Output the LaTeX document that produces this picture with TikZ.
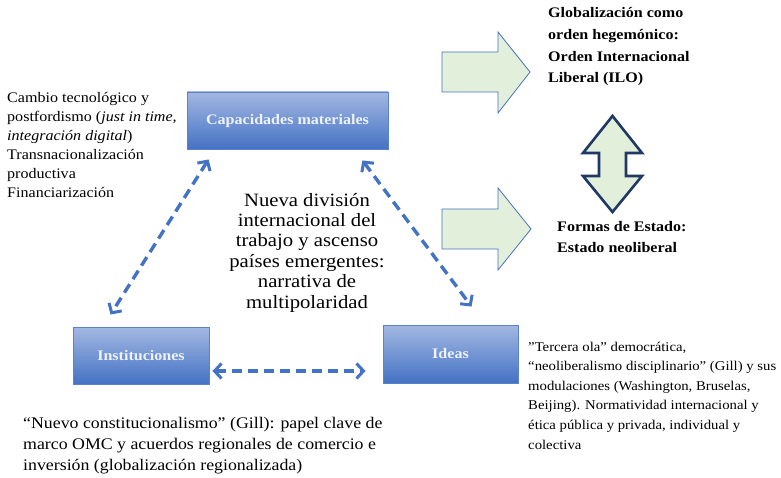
\documentclass[tikz,border=0pt]{standalone}
\usepackage{fontspec}
\setmainfont{Liberation Serif}[FakeStretch=1.1]
\usetikzlibrary{arrows.meta,calc}
\definecolor{boxtop}{HTML}{A3B8E2}
\definecolor{boxbot}{HTML}{4472C4}
\definecolor{boxline}{HTML}{5A82CB}
\definecolor{dashblue}{HTML}{4472C4}
\definecolor{paleGreen}{HTML}{E2EFDA}
\definecolor{navy}{HTML}{203864}
\definecolor{boxtext}{HTML}{EEF2FA}
\tikzset{
  conceptbox/.style={draw=boxline, line width=0.9pt, top color=boxtop, bottom color=boxbot,
    text=boxtext, font=\bfseries\fontsize{14.6}{17}\selectfont, inner sep=0pt},
  dasharrow/.style={draw=dashblue, line width=3.4pt, dash pattern=on 10pt off 6pt,
    {Straight Barb[length=7pt,width=15pt,line width=3pt]}-{Straight Barb[length=7pt,width=15pt,line width=3pt]}},
  blockarrow/.style={draw=dashblue, line width=0.8pt, fill=paleGreen, line join=miter},
  dblarrow/.style={draw=navy, line width=2.6pt, fill=paleGreen, line join=miter},
  txt/.style={inner sep=0pt, text=black},
}
\begin{document}
\begin{tikzpicture}[x=1pt,y=-1pt]
\useasboundingbox[fill=white] (0,0) rectangle (781,478);

% concept boxes
\node[conceptbox, minimum width=201pt, minimum height=57pt] (cap) at (287.5,120.5) {Capacidades materiales};
\node[conceptbox, minimum width=136pt, minimum height=57pt] (inst) at (141,355.5) {Instituciones};
\node[conceptbox, minimum width=135pt, minimum height=58pt] (ideas) at (450.5,354) {Ideas};

% dashed double arrows
\draw[dasharrow] ($(cap.south west)+(22,10)$) -- ($(inst.north west)+(38,-12)$);
\draw[dasharrow] ($(cap.south east)+(-26,11)$) -- ($(ideas.north west)+(89,-18)$);
\draw[dasharrow] ($(inst.east)+(3,15.5)$) -- ($(ideas.west)+(-17,17)$);

% block arrows
\draw[blockarrow] (442,52) -- (498,52) -- (498,32) -- (530,72) -- (498,113) -- (498,92) -- (442,92) -- cycle;
\draw[blockarrow] (442,209) -- (498,209) -- (498,188) -- (531,229) -- (498,270) -- (498,249) -- (442,249) -- cycle;

% vertical double arrow
\draw[dblarrow] (612.5,116) -- (642,153) -- (626,153) -- (626,176) -- (642,176) -- (612.5,212)
  -- (583,176) -- (599,176) -- (599,153) -- (583,153) -- cycle;

% texts (base anchor = baseline of the last line)
\node[txt, anchor=base west, align=left, font=\bfseries\fontsize{14.6}{21.7}\selectfont] (glob) at (548,83)
  {Globalización como\\orden hegemónico:\\Orden Internacional\\Liberal (ILO)};
\node[txt, anchor=base west, align=left, font=\bfseries\fontsize{14.6}{21}\selectfont] (formas) at (557,253)
  {Formas de Estado:\\Estado neoliberal};
\node[txt, anchor=base west, align=left, font=\fontsize{14.6}{19}\selectfont] (left) at (7,198)
  {Cambio tecnológico y\\postfordismo (\textit{just in time,}\\\textit{integración digital})\\Transnacionalización\\productiva\\Financiarización};
\node[txt, anchor=base, align=center, font=\fontsize{18.8}{20.4}\selectfont] (mid) at (307,308)
  {Nueva división\\internacional del\\trabajo y ascenso\\países emergentes:\\narrativa de\\multipolaridad};
\node[txt, anchor=base west, align=left, font=\fontsize{13.4}{19.6}\selectfont] (ideastxt) at (528,449)
  {”Tercera ola” democrática,\\“neoliberalismo disciplinario” (Gill) y sus\\modulaciones (Washington, Bruselas,\\Beijing). Normatividad internacional y\\ética pública y privada, individual y\\colectiva};
\node[txt, anchor=base west, align=left, font=\fontsize{16.2}{21}\selectfont] (insttxt) at (23,470)
  {“Nuevo constitucionalismo” (Gill): papel clave de\\marco OMC y acuerdos regionales de comercio e\\inversión (globalización regionalizada)};
\end{tikzpicture}
\end{document}
